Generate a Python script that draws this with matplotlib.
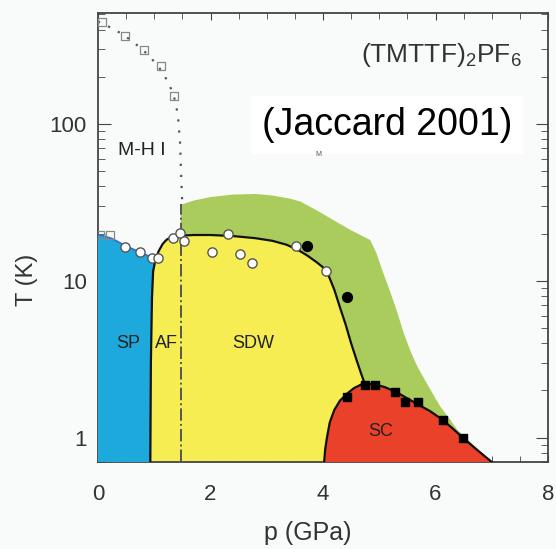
import matplotlib.pyplot as plt
import numpy as np
from matplotlib.ticker import LogLocator, NullFormatter, MultipleLocator

plt.rcParams['font.family'] = ['Liberation Sans', 'DejaVu Sans']
plt.rcParams['mathtext.fontset'] = 'custom'
plt.rcParams['mathtext.rm'] = 'Liberation Sans'

# phase regions (p in GPa, T in K)
green_p = [1.47, 1.7, 2.0, 2.4, 2.8, 3.1, 3.4, 3.6, 3.9, 4.2, 4.5, 4.84, 4.95, 5.05, 5.2, 5.32,
           5.43, 5.55, 5.68, 5.9, 6.09, 6.25, 6.39, 6.7, 7.0, 1.47]
green_T = [30.5, 32.5, 34.2, 35.5, 35.8, 35, 33.5, 32, 28, 24.2, 21, 18.2, 15, 11.8, 8.4, 6.3,
           4.7, 3.6, 2.83, 2.05, 1.57, 1.32, 1.12, 0.88, 0.7, 0.7]

sdw_p = [0.93, 0.94, 0.96, 0.98, 1.02, 1.08, 1.15, 1.22, 1.3, 1.45, 1.7, 2.0, 2.4, 2.8, 3.1,
         3.35, 3.55, 3.72, 3.88, 4.0, 4.1, 4.2, 4.3, 4.4, 4.5, 4.6, 4.68, 4.73]
sdw_T = [0.7, 3, 7.9, 11.5, 13.6, 15.5, 17.2, 18.3, 19.0, 19.4, 19.6, 19.6, 19.3, 18.7, 18.0,
         17.0, 15.8, 14.5, 13.2, 12.2, 10.8, 8.8, 6.8, 5.3, 4.0, 3.1, 2.55, 2.27]

sc_p = [4.02, 4.04, 4.07, 4.12, 4.2, 4.3, 4.42, 4.55, 4.72, 4.9, 5.1, 5.3, 5.5, 5.7, 5.9,
        6.1, 6.3, 6.5, 6.75, 7.0]
sc_T = [0.7, 0.85, 1.0, 1.25, 1.5, 1.72, 1.9, 2.07, 2.22, 2.2, 2.1, 1.96, 1.78, 1.62, 1.48,
        1.32, 1.15, 0.99, 0.83, 0.7]

sp_p = [0.0, 0.04, 0.25, 0.48, 0.75, 0.96, 1.02, 0.98, 0.96, 0.94, 0.93]
sp_T = [19.6, 19.6, 18.6, 16.8, 15.2, 14.1, 13.6, 11.5, 7.9, 3, 0.7]

mhi_p = [0.0, 0.3, 0.6, 0.9, 1.1, 1.25, 1.35, 1.42, 1.46, 1.48, 1.5]
mhi_T = [450, 400, 340, 275, 225, 185, 150, 115, 75, 45, 30]

# data points
sq_open_p = [0.07, 0.48, 0.82, 1.12, 1.35, 0.04, 0.21]
sq_open_T = [447, 364, 296, 234, 151, 19.6, 19.6]
circ_open_p = [0.48, 0.75, 0.96, 1.07, 1.33, 1.46, 1.53, 2.31, 2.03, 2.53, 2.74, 3.52, 4.06]
circ_open_T = [16.5, 15.3, 14.0, 14.0, 18.8, 20.2, 18.0, 19.9, 15.3, 14.9, 13.0, 16.7, 11.6]
circ_full_p = [3.72, 4.43]
circ_full_T = [16.7, 7.9]
sq_full_p = [4.43, 4.75, 4.93, 5.28, 5.46, 5.68, 6.14, 6.48]
sq_full_T = [1.82, 2.18, 2.18, 1.96, 1.70, 1.70, 1.30, 1.0]

fig = plt.figure(figsize=(5.56, 5.49), dpi=100)
fig.patch.set_facecolor('#f9fbfb')
ax = fig.add_axes([98 / 556, 1 - 462 / 549, 450 / 556, 449 / 549])
ax.set_facecolor('#f9fbfb')
ax.set_yscale('log')
ax.set_xlim(0, 8)
ax.set_ylim(0.7, 510)

ax.fill(green_p, green_T, color='#a9cc5c', lw=0, zorder=1)
ax.fill(sdw_p + [4.9, 4.9], sdw_T + [2.27, 0.7], color='#f6ed52', lw=0, zorder=2)
ax.fill(sc_p, sc_T, color='#e9412a', lw=0, zorder=3)
ax.fill(sp_p + [0.0], sp_T + [0.7], color='#1ea9dc', lw=0, zorder=4)

ax.plot(sp_p[:7], sp_T[:7], color='#2f6fc8', lw=1.2, zorder=5)
ax.plot(sdw_p, sdw_T, color='#111111', lw=1.6, zorder=6)
ax.plot(sc_p, sc_T, color='#111111', lw=1.6, zorder=6)
ax.plot(mhi_p, mhi_T, color='#555555', lw=1.6, ls=(0, (1, 4)), zorder=6)
ax.plot([1.47, 1.47], [0.7, 31], color='#555555', lw=1.4, ls='-.', zorder=6)

ax.scatter(sq_open_p, sq_open_T, marker='s', s=36, facecolor='none', edgecolor='#888888', lw=0.9, zorder=7)
ax.scatter(circ_open_p, circ_open_T, marker='o', s=44, facecolor='white', edgecolor='#555555', lw=1.0, zorder=7)
ax.scatter(circ_full_p, circ_full_T, marker='o', s=50, color='black', zorder=7)
ax.scatter(sq_full_p, sq_full_T, marker='s', s=34, color='black', zorder=7)

lbl = dict(fontsize=13, color='#222222', ha='center', va='center', zorder=8)
ax.text(0.78, 68, 'M-H I', fontsize=14, color='#222222', ha='center', va='center', zorder=8)
ax.text(0.53, 4.0, 'SP', **lbl)
ax.text(1.21, 4.0, 'AF', **lbl)
ax.text(2.76, 4.0, 'SDW', **lbl)
ax.text(5.02, 1.09, 'SC', **lbl)

ax.xaxis.set_major_locator(MultipleLocator(2))
ax.xaxis.set_minor_locator(MultipleLocator(0.5))
ax.yaxis.set_minor_locator(LogLocator(base=10, subs=np.arange(2, 10)))
ax.yaxis.set_minor_formatter(NullFormatter())
ax.set_yticks([1, 10, 100])
ax.set_yticklabels(['1', '10', '100'])
ax.tick_params(which='both', direction='in', top=True, right=True, color='#444444')
ax.tick_params(axis='y', which='major', length=9, pad=8, labelsize=16, labelcolor='#333333')
ax.tick_params(axis='y', which='minor', length=5)
ax.tick_params(axis='x', which='major', length=5, pad=16, labelsize=16, labelcolor='#333333')
ax.tick_params(axis='x', which='minor', length=4)
for s in ax.spines.values():
    s.set_color('#444444')
    s.set_linewidth(1.3)

fig.text(27 / 556, 1 - 280 / 549, 'T (K)', rotation=90, ha='center', va='center', fontsize=17, color='#333333')
fig.text(308 / 556, 1 - 533 / 549, 'p (GPa)', ha='center', va='center', fontsize=18, color='#333333')

fig.text(522 / 556, 1 - 55 / 549, r'(TMTTF)$_2$PF$_6$', ha='right', va='center', fontsize=19, color='#333333')
fig.text(387 / 556, 1 - 125 / 549, '(Jaccard 2001)', ha='center', va='center', fontsize=27, color='black',
         bbox=dict(facecolor='white', edgecolor='none', pad=8))
fig.text(318 / 556, 1 - 155 / 549, 'M', ha='center', va='center', fontsize=5, color='#555555')

fig.savefig('out.png', dpi=100, facecolor=fig.get_facecolor())
